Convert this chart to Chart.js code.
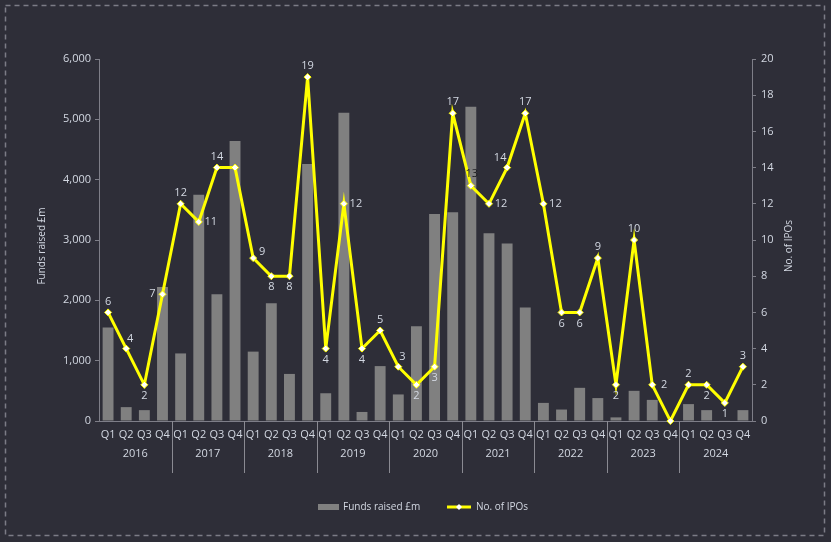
<!DOCTYPE html>
<html>
<head>
<meta charset="utf-8">
<script src="https://cdn.jsdelivr.net/npm/chart.js@4/dist/chart.umd.min.js"></script>
<style>
  html, body { margin: 0; padding: 0; background: #2e2e38; }
  #wrap { width: 831px; height: 542px; position: relative; }
</style>
</head>
<body>
<div id="wrap"><canvas id="chart"></canvas></div>
<script>
/* ── Data ── */
const years = ['2016','2017','2018','2019','2020','2021','2022','2023','2024'];
const quarterNames = ['Q1','Q2','Q3','Q4'];
const labels = years.flatMap(() => quarterNames);

// Funds raised £m
const funds = [1550, 230, 180, 2220,   1120, 3750, 2100, 4640,
               1150, 1950, 780, 4260,  460, 5110, 150, 910,
               440, 1570, 3430, 3460,  5210, 3110, 2940, 1880,
               300, 190, 550, 380,     60, 500, 350, 0,
               280, 180, 10, 180];
// No. of IPOs
const ipos = [6, 4, 2, 7,   12, 11, 14, 14,  9, 8, 8, 19,  4, 12, 4, 5,
              3, 2, 3, 17,  13, 12, 14, 17,  12, 6, 6, 9,  2, 10, 2, 0,
              2, 2, 1, 3];

// where each IPO label sits relative to its point ('' = no label)
const labelPos = ['t','tr','b','l',  't','r','t','',  'rt','b','b','t',  'b','r','b','t',
                  'tr','b','b','t',  'td','r','tl','t', 'r','b','b','t',  'b','t','r','',
                  't','b','b','t'];

/* ── Styling ── */
const FONT = 'Open Sans';
const textCol = '#d3d8e2';
const axisCol = '#7e7e88';
const barCol = '#808080';
const lineCol = '#ffff00';

const offsets = {
  t: [0, -11], b: [0, 11], l: [-10, 0], r: [12, 0],
  tr: [4, -10], rt: [9, -6], tl: [-7, -10], td: [1, -12]
};

const decorPlugin = {
  id: 'decor',
  beforeDraw(chart) {
    const ctx = chart.ctx;
    ctx.save();
    ctx.fillStyle = '#2e2e38';
    ctx.fillRect(0, 0, chart.width, chart.height);
    ctx.strokeStyle = '#7c7c86';
    ctx.lineWidth = 1.5;
    ctx.setLineDash([5, 4]);
    ctx.strokeRect(5.5, 5.5, 819, 530);
    ctx.restore();
  },
  afterDraw(chart) {
    const ctx = chart.ctx;
    const x = chart.scales.x;
    const area = chart.chartArea;
    ctx.save();

    // year separators + labels
    ctx.strokeStyle = '#8a8a92';
    ctx.lineWidth = 1;
    ctx.font = `11px "${FONT}"`;
    ctx.fillStyle = textCol;
    ctx.textAlign = 'center';
    ctx.textBaseline = 'middle';
    years.forEach((yr, i) => {
      const a = x.getPixelForValue(i * 4 + 1);
      const b = x.getPixelForValue(i * 4 + 2);
      ctx.fillText(yr, (a + b) / 2, 454);
      if (i > 0) {
        const sx = Math.round((x.getPixelForValue(i * 4 - 1) + x.getPixelForValue(i * 4)) / 2) + 0.5;
        ctx.beginPath();
        ctx.moveTo(sx, area.bottom);
        ctx.lineTo(sx, 473);
        ctx.stroke();
      }
    });

    // IPO data labels
    const pts = chart.getDatasetMeta(1).data;
    ipos.forEach((v, i) => {
      const pos = labelPos[i];
      if (!pos) return;
      const [dx, dy] = offsets[pos];
      ctx.fillStyle = pos === 'td' ? '#1e1e22' : textCol;
      ctx.fillText(String(v), pts[i].x + dx, pts[i].y + dy);
    });

    // axis titles
    ctx.fillStyle = textCol;
    ctx.font = `10px "${FONT}"`;
    [['Funds raised £m', 42], ['No. of IPOs', 789]].forEach(([t, tx]) => {
      ctx.save();
      ctx.translate(tx, 246);
      ctx.rotate(-Math.PI / 2);
      ctx.fillText(t, 0, 0);
      ctx.restore();
    });

    // legend
    ctx.textAlign = 'left';
    ctx.fillStyle = barCol;
    ctx.fillRect(318, 504, 21, 6);
    ctx.fillStyle = textCol;
    ctx.fillText('Funds raised £m', 343, 507);
    ctx.strokeStyle = lineCol;
    ctx.lineWidth = 3;
    ctx.beginPath();
    ctx.moveTo(447, 507);
    ctx.lineTo(471, 507);
    ctx.stroke();
    ctx.fillStyle = '#ffffff';
    ctx.beginPath();
    ctx.moveTo(459, 504); ctx.lineTo(462, 507); ctx.lineTo(459, 510); ctx.lineTo(456, 507);
    ctx.closePath();
    ctx.fill();
    ctx.fillStyle = textCol;
    ctx.fillText('No. of IPOs', 476, 507);

    ctx.restore();
  }
};

new Chart(document.getElementById('chart'), {
  type: 'bar',
  data: {
    labels,
    datasets: [
      {
        type: 'bar',
        label: 'Funds raised £m',
        data: funds,
        backgroundColor: barCol,
        categoryPercentage: 1,
        barPercentage: 0.6,
        yAxisID: 'y',
        order: 1
      },
      {
        type: 'line',
        label: 'No. of IPOs',
        data: ipos,
        borderColor: lineCol,
        borderWidth: 3,
        tension: 0,
        pointStyle: 'rectRot',
        pointRadius: 3.5,
        pointBackgroundColor: '#ffffff',
        pointBorderColor: lineCol,
        pointBorderWidth: 1,
        yAxisID: 'y1',
        clip: 8,
        order: 0
      }
    ]
  },
  options: {
    responsive: true,
    maintainAspectRatio: false,
    animation: false,
    layout: { padding: { top: 59, left: 0, right: 0, bottom: 0 } },
    plugins: { legend: { display: false }, tooltip: { enabled: false } },
    scales: {
      x: {
        grid: { drawOnChartArea: false, drawTicks: false },
        border: { display: true, color: axisCol },
        ticks: { color: textCol, font: { family: FONT, size: 11 }, padding: 7, maxRotation: 0, autoSkip: false },
        afterFit: s => { s.height = 121; }
      },
      y: {
        position: 'left',
        min: 0, max: 6000,
        grid: { drawOnChartArea: false, drawTicks: true, tickLength: 4, color: axisCol },
        border: { display: true, color: axisCol },
        ticks: { stepSize: 1000, color: textCol, font: { family: FONT, size: 11 }, padding: 4,
                 callback: v => v.toLocaleString('en-US') },
        afterFit: s => { s.width = 99; }
      },
      y1: {
        position: 'right',
        min: 0, max: 20,
        grid: { drawOnChartArea: false, drawTicks: true, tickLength: 4, color: axisCol },
        border: { display: true, color: axisCol },
        ticks: { stepSize: 2, color: textCol, font: { family: FONT, size: 11 }, padding: 5 },
        afterFit: s => { s.width = 79; }
      }
    }
  },
  plugins: [decorPlugin]
});
</script>
</body>
</html>
